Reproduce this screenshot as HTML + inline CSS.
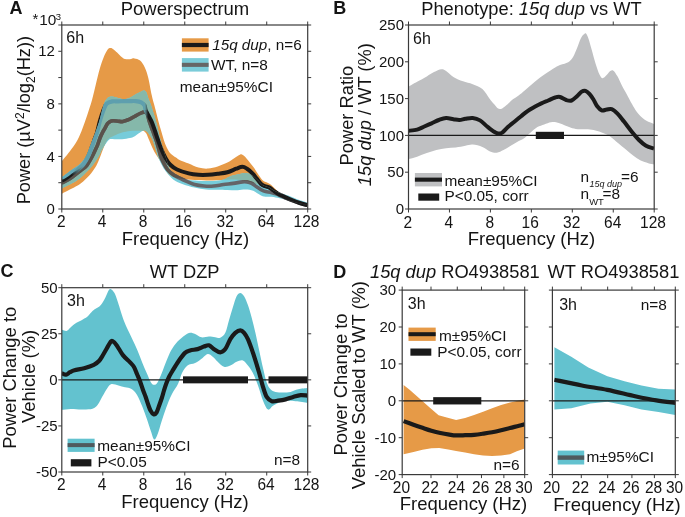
<!DOCTYPE html>
<html><head><meta charset="utf-8"><style>
html,body{margin:0;padding:0;background:#fff;width:685px;height:517px;overflow:hidden}
svg{display:block;will-change:transform;font-family:"Liberation Sans",sans-serif}
</style></head><body>
<svg width="685" height="517" viewBox="0 0 685 517">
<rect width="685" height="517" fill="#fff"/>
<clipPath id="clipA"><rect x="61.80" y="25.00" width="245.90" height="184.00"/></clipPath>
<clipPath id="cyanA"><path d="M61.80,176.80 C62.17,176.63 62.30,176.97 64.00,175.80 C65.70,174.63 69.33,171.77 72.00,169.80 C74.67,167.83 77.70,166.22 80.00,164.00 C82.30,161.78 84.05,159.68 85.80,156.50 C87.55,153.32 88.95,148.77 90.50,144.90 C92.05,141.03 93.65,137.18 95.10,133.30 C96.55,129.42 98.03,125.48 99.20,121.60 C100.37,117.72 101.20,113.23 102.10,110.00 C103.00,106.77 103.55,104.32 104.60,102.20 C105.65,100.08 107.10,98.23 108.40,97.30 C109.70,96.37 110.77,96.47 112.40,96.60 C114.03,96.73 116.27,97.65 118.20,98.10 C120.13,98.55 122.07,99.35 124.00,99.30 C125.93,99.25 127.87,98.63 129.80,97.80 C131.73,96.97 133.67,95.37 135.60,94.30 C137.53,93.23 140.05,92.05 141.40,91.40 C142.75,90.75 142.90,90.30 143.70,90.40 C144.50,90.50 145.38,90.57 146.20,92.00 C147.02,93.43 147.87,97.00 148.60,99.00 C149.33,101.00 149.93,102.17 150.60,104.00 C151.27,105.83 151.67,107.00 152.60,110.00 C153.53,113.00 154.87,117.00 156.20,122.00 C157.53,127.00 159.38,135.33 160.60,140.00 C161.82,144.67 162.60,147.00 163.50,150.00 C164.40,153.00 165.08,155.17 166.00,158.00 C166.92,160.83 167.92,164.25 169.00,167.00 C170.08,169.75 170.67,172.58 172.50,174.50 C174.33,176.42 176.25,177.50 180.00,178.50 C183.75,179.50 190.00,180.08 195.00,180.50 C200.00,180.92 205.50,181.08 210.00,181.00 C214.50,180.92 218.67,180.77 222.00,180.00 C225.33,179.23 227.12,177.38 230.00,176.40 C232.88,175.42 236.72,174.67 239.30,174.10 C241.88,173.53 243.43,172.87 245.50,173.00 C247.57,173.13 249.77,173.82 251.70,174.90 C253.63,175.98 255.30,177.83 257.10,179.50 C258.90,181.17 260.57,183.60 262.50,184.90 C264.43,186.20 266.63,186.27 268.70,187.30 C270.77,188.33 272.83,190.07 274.90,191.10 C276.97,192.13 278.78,192.72 281.10,193.50 C283.42,194.28 286.23,194.90 288.80,195.80 C291.37,196.70 293.35,197.75 296.50,198.90 C299.65,200.05 305.83,202.07 307.70,202.70 L307.70,204.90 C306.10,204.57 301.25,203.62 298.10,202.90 C294.95,202.18 291.90,201.37 288.80,200.60 C285.70,199.83 282.33,198.93 279.50,198.30 C276.67,197.67 274.38,197.10 271.80,196.80 C269.22,196.50 266.07,196.88 264.00,196.50 C261.93,196.12 261.20,195.45 259.40,194.50 C257.60,193.55 255.52,191.62 253.20,190.80 C250.88,189.98 248.08,189.70 245.50,189.60 C242.92,189.50 240.72,190.13 237.70,190.20 C234.68,190.27 230.73,190.07 227.40,190.00 C224.07,189.93 221.25,189.87 217.70,189.80 C214.15,189.73 209.97,189.97 206.10,189.60 C202.23,189.23 198.37,188.50 194.50,187.60 C190.63,186.70 186.45,185.55 182.90,184.20 C179.35,182.85 176.10,181.70 173.20,179.50 C170.30,177.30 167.40,173.42 165.50,171.00 C163.60,168.58 162.95,167.17 161.80,165.00 C160.65,162.83 159.63,160.67 158.60,158.00 C157.57,155.33 156.60,152.00 155.60,149.00 C154.60,146.00 153.53,142.25 152.60,140.00 C151.67,137.75 150.92,136.87 150.00,135.50 C149.08,134.13 148.17,132.65 147.10,131.80 C146.03,130.95 144.90,130.20 143.60,130.40 C142.30,130.60 140.85,131.98 139.30,133.00 C137.75,134.02 135.85,135.67 134.30,136.50 C132.75,137.33 132.03,137.55 130.00,138.00 C127.97,138.45 124.68,139.00 122.10,139.20 C119.52,139.40 116.63,139.17 114.50,139.20 C112.37,139.23 110.85,138.52 109.30,139.40 C107.75,140.28 106.47,142.73 105.20,144.50 C103.93,146.27 102.80,148.00 101.70,150.00 C100.60,152.00 100.18,153.83 98.60,156.50 C97.02,159.17 94.30,163.33 92.20,166.00 C90.10,168.67 88.03,170.47 86.00,172.50 C83.97,174.53 82.33,176.40 80.00,178.20 C77.67,180.00 74.67,181.78 72.00,183.30 C69.33,184.82 65.70,186.42 64.00,187.30 C62.30,188.18 62.17,188.38 61.80,188.60 Z"/></clipPath>
<clipPath id="orA"><path d="M61.80,161.30 C63.12,159.68 67.08,155.15 69.70,151.60 C72.32,148.05 75.40,143.77 77.50,140.00 C79.60,136.23 80.70,133.10 82.30,129.00 C83.90,124.90 85.48,120.23 87.10,115.40 C88.72,110.57 90.55,105.15 92.00,100.00 C93.45,94.85 94.52,89.67 95.80,84.50 C97.08,79.33 98.40,73.52 99.70,69.00 C101.00,64.48 102.30,60.62 103.60,57.40 C104.90,54.18 106.37,51.25 107.50,49.70 C108.63,48.15 109.43,48.17 110.40,48.10 C111.37,48.03 112.18,48.55 113.30,49.30 C114.42,50.05 115.82,51.42 117.10,52.60 C118.38,53.78 119.68,55.33 121.00,56.40 C122.32,57.47 123.50,58.53 125.00,59.00 C126.50,59.47 128.45,59.30 130.00,59.20 C131.55,59.10 132.62,58.18 134.30,58.40 C135.98,58.62 138.35,59.00 140.10,60.50 C141.85,62.00 143.43,64.50 144.80,67.40 C146.17,70.30 147.15,73.30 148.30,77.90 C149.45,82.50 150.75,90.65 151.70,95.00 C152.65,99.35 153.35,101.50 154.00,104.00 C154.65,106.50 154.83,107.00 155.60,110.00 C156.37,113.00 157.67,118.50 158.60,122.00 C159.53,125.50 160.33,128.00 161.20,131.00 C162.07,134.00 162.92,137.33 163.80,140.00 C164.68,142.67 165.47,144.85 166.50,147.00 C167.53,149.15 168.42,151.13 170.00,152.90 C171.58,154.67 174.33,156.38 176.00,157.60 C177.67,158.82 177.88,159.22 180.00,160.20 C182.12,161.18 185.63,162.27 188.70,163.50 C191.77,164.73 195.18,166.75 198.40,167.60 C201.62,168.45 204.78,168.78 208.00,168.60 C211.22,168.42 214.47,167.50 217.70,166.50 C220.93,165.50 224.58,164.03 227.40,162.60 C230.22,161.17 232.62,159.15 234.60,157.90 C236.58,156.65 238.18,155.70 239.30,155.10 C240.42,154.50 240.43,154.10 241.30,154.30 C242.17,154.50 243.38,155.30 244.50,156.30 C245.62,157.30 246.52,158.50 248.00,160.30 C249.48,162.10 251.60,164.62 253.40,167.10 C255.20,169.58 257.22,172.95 258.80,175.20 C260.38,177.45 261.53,179.37 262.90,180.60 C264.27,181.83 265.65,181.92 267.00,182.60 C268.35,183.28 269.65,183.68 271.00,184.70 C272.35,185.72 273.75,187.38 275.10,188.70 C276.45,190.02 277.58,191.42 279.10,192.60 C280.62,193.78 282.07,194.67 284.20,195.80 C286.33,196.93 289.32,198.32 291.90,199.40 C294.48,200.48 297.07,201.48 299.70,202.30 C302.33,203.12 306.37,203.97 307.70,204.30 L307.70,205.30 C304.75,204.42 294.95,201.80 290.00,200.00 C285.05,198.20 281.55,196.23 278.00,194.50 C274.45,192.77 272.03,191.27 268.70,189.60 C265.37,187.93 261.95,186.02 258.00,184.50 C254.05,182.98 249.33,181.33 245.00,180.50 C240.67,179.67 235.83,179.58 232.00,179.50 C228.17,179.42 225.67,179.83 222.00,180.00 C218.33,180.17 214.50,180.50 210.00,180.50 C205.50,180.50 200.00,180.33 195.00,180.00 C190.00,179.67 184.17,179.25 180.00,178.50 C175.83,177.75 172.67,177.42 170.00,175.50 C167.33,173.58 165.67,169.50 164.00,167.00 C162.33,164.50 161.33,162.58 160.00,160.50 C158.67,158.42 157.25,156.58 156.00,154.50 C154.75,152.42 153.65,150.42 152.50,148.00 C151.35,145.58 150.13,142.42 149.10,140.00 C148.07,137.58 147.15,134.97 146.30,133.50 C145.45,132.03 144.52,131.62 144.00,131.20 C143.48,130.78 144.03,131.07 143.20,131.00 C142.37,130.93 141.20,130.80 139.00,130.80 C136.80,130.80 132.82,130.70 130.00,131.00 C127.18,131.30 124.38,131.97 122.10,132.60 C119.82,133.23 118.43,133.85 116.30,134.80 C114.17,135.75 110.93,137.18 109.30,138.30 C107.67,139.42 107.47,139.88 106.50,141.50 C105.53,143.12 104.53,145.50 103.50,148.00 C102.47,150.50 101.50,153.53 100.30,156.50 C99.10,159.47 97.85,162.97 96.30,165.80 C94.75,168.63 92.72,171.33 91.00,173.50 C89.28,175.67 87.83,177.05 86.00,178.80 C84.17,180.55 82.33,182.37 80.00,184.00 C77.67,185.63 74.67,187.17 72.00,188.60 C69.33,190.03 65.70,191.70 64.00,192.60 C62.30,193.50 62.17,193.77 61.80,194.00 Z"/></clipPath>
<linearGradient id="gMidA" gradientUnits="userSpaceOnUse" x1="60" y1="0" x2="310" y2="0"><stop offset="0.0480" stop-color="#fff" stop-opacity="0"/><stop offset="0.0960" stop-color="#fff" stop-opacity="1"/><stop offset="0.3360" stop-color="#fff" stop-opacity="1"/><stop offset="0.3520" stop-color="#fff" stop-opacity="0"/></linearGradient>
<linearGradient id="gNotMidA" gradientUnits="userSpaceOnUse" x1="60" y1="0" x2="310" y2="0"><stop offset="0.0480" stop-color="#fff" stop-opacity="1"/><stop offset="0.0960" stop-color="#fff" stop-opacity="0"/><stop offset="0.3360" stop-color="#fff" stop-opacity="0"/><stop offset="0.3520" stop-color="#fff" stop-opacity="1"/></linearGradient>
<mask id="mMidA" maskUnits="userSpaceOnUse" x="0" y="0" width="685" height="517"><rect x="60" y="25" width="250" height="184" fill="url(#gMidA)"/></mask>
<mask id="mNotMidA" maskUnits="userSpaceOnUse" x="0" y="0" width="685" height="517"><rect x="60" y="25" width="250" height="184" fill="url(#gNotMidA)"/></mask>
<mask id="mOutCyanA" maskUnits="userSpaceOnUse" x="0" y="0" width="685" height="517"><rect x="0" y="0" width="685" height="517" fill="#fff"/><path d="M61.80,176.80 C62.17,176.63 62.30,176.97 64.00,175.80 C65.70,174.63 69.33,171.77 72.00,169.80 C74.67,167.83 77.70,166.22 80.00,164.00 C82.30,161.78 84.05,159.68 85.80,156.50 C87.55,153.32 88.95,148.77 90.50,144.90 C92.05,141.03 93.65,137.18 95.10,133.30 C96.55,129.42 98.03,125.48 99.20,121.60 C100.37,117.72 101.20,113.23 102.10,110.00 C103.00,106.77 103.55,104.32 104.60,102.20 C105.65,100.08 107.10,98.23 108.40,97.30 C109.70,96.37 110.77,96.47 112.40,96.60 C114.03,96.73 116.27,97.65 118.20,98.10 C120.13,98.55 122.07,99.35 124.00,99.30 C125.93,99.25 127.87,98.63 129.80,97.80 C131.73,96.97 133.67,95.37 135.60,94.30 C137.53,93.23 140.05,92.05 141.40,91.40 C142.75,90.75 142.90,90.30 143.70,90.40 C144.50,90.50 145.38,90.57 146.20,92.00 C147.02,93.43 147.87,97.00 148.60,99.00 C149.33,101.00 149.93,102.17 150.60,104.00 C151.27,105.83 151.67,107.00 152.60,110.00 C153.53,113.00 154.87,117.00 156.20,122.00 C157.53,127.00 159.38,135.33 160.60,140.00 C161.82,144.67 162.60,147.00 163.50,150.00 C164.40,153.00 165.08,155.17 166.00,158.00 C166.92,160.83 167.92,164.25 169.00,167.00 C170.08,169.75 170.67,172.58 172.50,174.50 C174.33,176.42 176.25,177.50 180.00,178.50 C183.75,179.50 190.00,180.08 195.00,180.50 C200.00,180.92 205.50,181.08 210.00,181.00 C214.50,180.92 218.67,180.77 222.00,180.00 C225.33,179.23 227.12,177.38 230.00,176.40 C232.88,175.42 236.72,174.67 239.30,174.10 C241.88,173.53 243.43,172.87 245.50,173.00 C247.57,173.13 249.77,173.82 251.70,174.90 C253.63,175.98 255.30,177.83 257.10,179.50 C258.90,181.17 260.57,183.60 262.50,184.90 C264.43,186.20 266.63,186.27 268.70,187.30 C270.77,188.33 272.83,190.07 274.90,191.10 C276.97,192.13 278.78,192.72 281.10,193.50 C283.42,194.28 286.23,194.90 288.80,195.80 C291.37,196.70 293.35,197.75 296.50,198.90 C299.65,200.05 305.83,202.07 307.70,202.70 L307.70,204.90 C306.10,204.57 301.25,203.62 298.10,202.90 C294.95,202.18 291.90,201.37 288.80,200.60 C285.70,199.83 282.33,198.93 279.50,198.30 C276.67,197.67 274.38,197.10 271.80,196.80 C269.22,196.50 266.07,196.88 264.00,196.50 C261.93,196.12 261.20,195.45 259.40,194.50 C257.60,193.55 255.52,191.62 253.20,190.80 C250.88,189.98 248.08,189.70 245.50,189.60 C242.92,189.50 240.72,190.13 237.70,190.20 C234.68,190.27 230.73,190.07 227.40,190.00 C224.07,189.93 221.25,189.87 217.70,189.80 C214.15,189.73 209.97,189.97 206.10,189.60 C202.23,189.23 198.37,188.50 194.50,187.60 C190.63,186.70 186.45,185.55 182.90,184.20 C179.35,182.85 176.10,181.70 173.20,179.50 C170.30,177.30 167.40,173.42 165.50,171.00 C163.60,168.58 162.95,167.17 161.80,165.00 C160.65,162.83 159.63,160.67 158.60,158.00 C157.57,155.33 156.60,152.00 155.60,149.00 C154.60,146.00 153.53,142.25 152.60,140.00 C151.67,137.75 150.92,136.87 150.00,135.50 C149.08,134.13 148.17,132.65 147.10,131.80 C146.03,130.95 144.90,130.20 143.60,130.40 C142.30,130.60 140.85,131.98 139.30,133.00 C137.75,134.02 135.85,135.67 134.30,136.50 C132.75,137.33 132.03,137.55 130.00,138.00 C127.97,138.45 124.68,139.00 122.10,139.20 C119.52,139.40 116.63,139.17 114.50,139.20 C112.37,139.23 110.85,138.52 109.30,139.40 C107.75,140.28 106.47,142.73 105.20,144.50 C103.93,146.27 102.80,148.00 101.70,150.00 C100.60,152.00 100.18,153.83 98.60,156.50 C97.02,159.17 94.30,163.33 92.20,166.00 C90.10,168.67 88.03,170.47 86.00,172.50 C83.97,174.53 82.33,176.40 80.00,178.20 C77.67,180.00 74.67,181.78 72.00,183.30 C69.33,184.82 65.70,186.42 64.00,187.30 C62.30,188.18 62.17,188.38 61.80,188.60 Z" fill="#000"/></mask>
<linearGradient id="gLeftA" gradientUnits="userSpaceOnUse" x1="74" y1="0" x2="86" y2="0"><stop offset="0" stop-color="#fff" stop-opacity="1"/><stop offset="1" stop-color="#fff" stop-opacity="0"/></linearGradient>
<mask id="mLeftA" maskUnits="userSpaceOnUse" x="0" y="0" width="685" height="517"><rect x="60" y="25" width="40" height="184" fill="url(#gLeftA)"/></mask>
<g clip-path="url(#clipA)">
<path d="M61.80,161.30 C63.12,159.68 67.08,155.15 69.70,151.60 C72.32,148.05 75.40,143.77 77.50,140.00 C79.60,136.23 80.70,133.10 82.30,129.00 C83.90,124.90 85.48,120.23 87.10,115.40 C88.72,110.57 90.55,105.15 92.00,100.00 C93.45,94.85 94.52,89.67 95.80,84.50 C97.08,79.33 98.40,73.52 99.70,69.00 C101.00,64.48 102.30,60.62 103.60,57.40 C104.90,54.18 106.37,51.25 107.50,49.70 C108.63,48.15 109.43,48.17 110.40,48.10 C111.37,48.03 112.18,48.55 113.30,49.30 C114.42,50.05 115.82,51.42 117.10,52.60 C118.38,53.78 119.68,55.33 121.00,56.40 C122.32,57.47 123.50,58.53 125.00,59.00 C126.50,59.47 128.45,59.30 130.00,59.20 C131.55,59.10 132.62,58.18 134.30,58.40 C135.98,58.62 138.35,59.00 140.10,60.50 C141.85,62.00 143.43,64.50 144.80,67.40 C146.17,70.30 147.15,73.30 148.30,77.90 C149.45,82.50 150.75,90.65 151.70,95.00 C152.65,99.35 153.35,101.50 154.00,104.00 C154.65,106.50 154.83,107.00 155.60,110.00 C156.37,113.00 157.67,118.50 158.60,122.00 C159.53,125.50 160.33,128.00 161.20,131.00 C162.07,134.00 162.92,137.33 163.80,140.00 C164.68,142.67 165.47,144.85 166.50,147.00 C167.53,149.15 168.42,151.13 170.00,152.90 C171.58,154.67 174.33,156.38 176.00,157.60 C177.67,158.82 177.88,159.22 180.00,160.20 C182.12,161.18 185.63,162.27 188.70,163.50 C191.77,164.73 195.18,166.75 198.40,167.60 C201.62,168.45 204.78,168.78 208.00,168.60 C211.22,168.42 214.47,167.50 217.70,166.50 C220.93,165.50 224.58,164.03 227.40,162.60 C230.22,161.17 232.62,159.15 234.60,157.90 C236.58,156.65 238.18,155.70 239.30,155.10 C240.42,154.50 240.43,154.10 241.30,154.30 C242.17,154.50 243.38,155.30 244.50,156.30 C245.62,157.30 246.52,158.50 248.00,160.30 C249.48,162.10 251.60,164.62 253.40,167.10 C255.20,169.58 257.22,172.95 258.80,175.20 C260.38,177.45 261.53,179.37 262.90,180.60 C264.27,181.83 265.65,181.92 267.00,182.60 C268.35,183.28 269.65,183.68 271.00,184.70 C272.35,185.72 273.75,187.38 275.10,188.70 C276.45,190.02 277.58,191.42 279.10,192.60 C280.62,193.78 282.07,194.67 284.20,195.80 C286.33,196.93 289.32,198.32 291.90,199.40 C294.48,200.48 297.07,201.48 299.70,202.30 C302.33,203.12 306.37,203.97 307.70,204.30 L307.70,205.30 C304.75,204.42 294.95,201.80 290.00,200.00 C285.05,198.20 281.55,196.23 278.00,194.50 C274.45,192.77 272.03,191.27 268.70,189.60 C265.37,187.93 261.95,186.02 258.00,184.50 C254.05,182.98 249.33,181.33 245.00,180.50 C240.67,179.67 235.83,179.58 232.00,179.50 C228.17,179.42 225.67,179.83 222.00,180.00 C218.33,180.17 214.50,180.50 210.00,180.50 C205.50,180.50 200.00,180.33 195.00,180.00 C190.00,179.67 184.17,179.25 180.00,178.50 C175.83,177.75 172.67,177.42 170.00,175.50 C167.33,173.58 165.67,169.50 164.00,167.00 C162.33,164.50 161.33,162.58 160.00,160.50 C158.67,158.42 157.25,156.58 156.00,154.50 C154.75,152.42 153.65,150.42 152.50,148.00 C151.35,145.58 150.13,142.42 149.10,140.00 C148.07,137.58 147.15,134.97 146.30,133.50 C145.45,132.03 144.52,131.62 144.00,131.20 C143.48,130.78 144.03,131.07 143.20,131.00 C142.37,130.93 141.20,130.80 139.00,130.80 C136.80,130.80 132.82,130.70 130.00,131.00 C127.18,131.30 124.38,131.97 122.10,132.60 C119.82,133.23 118.43,133.85 116.30,134.80 C114.17,135.75 110.93,137.18 109.30,138.30 C107.67,139.42 107.47,139.88 106.50,141.50 C105.53,143.12 104.53,145.50 103.50,148.00 C102.47,150.50 101.50,153.53 100.30,156.50 C99.10,159.47 97.85,162.97 96.30,165.80 C94.75,168.63 92.72,171.33 91.00,173.50 C89.28,175.67 87.83,177.05 86.00,178.80 C84.17,180.55 82.33,182.37 80.00,184.00 C77.67,185.63 74.67,187.17 72.00,188.60 C69.33,190.03 65.70,191.70 64.00,192.60 C62.30,193.50 62.17,193.77 61.80,194.00 Z" fill="#E69A47"/>
<path d="M61.80,176.80 C62.17,176.63 62.30,176.97 64.00,175.80 C65.70,174.63 69.33,171.77 72.00,169.80 C74.67,167.83 77.70,166.22 80.00,164.00 C82.30,161.78 84.05,159.68 85.80,156.50 C87.55,153.32 88.95,148.77 90.50,144.90 C92.05,141.03 93.65,137.18 95.10,133.30 C96.55,129.42 98.03,125.48 99.20,121.60 C100.37,117.72 101.20,113.23 102.10,110.00 C103.00,106.77 103.55,104.32 104.60,102.20 C105.65,100.08 107.10,98.23 108.40,97.30 C109.70,96.37 110.77,96.47 112.40,96.60 C114.03,96.73 116.27,97.65 118.20,98.10 C120.13,98.55 122.07,99.35 124.00,99.30 C125.93,99.25 127.87,98.63 129.80,97.80 C131.73,96.97 133.67,95.37 135.60,94.30 C137.53,93.23 140.05,92.05 141.40,91.40 C142.75,90.75 142.90,90.30 143.70,90.40 C144.50,90.50 145.38,90.57 146.20,92.00 C147.02,93.43 147.87,97.00 148.60,99.00 C149.33,101.00 149.93,102.17 150.60,104.00 C151.27,105.83 151.67,107.00 152.60,110.00 C153.53,113.00 154.87,117.00 156.20,122.00 C157.53,127.00 159.38,135.33 160.60,140.00 C161.82,144.67 162.60,147.00 163.50,150.00 C164.40,153.00 165.08,155.17 166.00,158.00 C166.92,160.83 167.92,164.25 169.00,167.00 C170.08,169.75 170.67,172.58 172.50,174.50 C174.33,176.42 176.25,177.50 180.00,178.50 C183.75,179.50 190.00,180.08 195.00,180.50 C200.00,180.92 205.50,181.08 210.00,181.00 C214.50,180.92 218.67,180.77 222.00,180.00 C225.33,179.23 227.12,177.38 230.00,176.40 C232.88,175.42 236.72,174.67 239.30,174.10 C241.88,173.53 243.43,172.87 245.50,173.00 C247.57,173.13 249.77,173.82 251.70,174.90 C253.63,175.98 255.30,177.83 257.10,179.50 C258.90,181.17 260.57,183.60 262.50,184.90 C264.43,186.20 266.63,186.27 268.70,187.30 C270.77,188.33 272.83,190.07 274.90,191.10 C276.97,192.13 278.78,192.72 281.10,193.50 C283.42,194.28 286.23,194.90 288.80,195.80 C291.37,196.70 293.35,197.75 296.50,198.90 C299.65,200.05 305.83,202.07 307.70,202.70 L307.70,204.90 C306.10,204.57 301.25,203.62 298.10,202.90 C294.95,202.18 291.90,201.37 288.80,200.60 C285.70,199.83 282.33,198.93 279.50,198.30 C276.67,197.67 274.38,197.10 271.80,196.80 C269.22,196.50 266.07,196.88 264.00,196.50 C261.93,196.12 261.20,195.45 259.40,194.50 C257.60,193.55 255.52,191.62 253.20,190.80 C250.88,189.98 248.08,189.70 245.50,189.60 C242.92,189.50 240.72,190.13 237.70,190.20 C234.68,190.27 230.73,190.07 227.40,190.00 C224.07,189.93 221.25,189.87 217.70,189.80 C214.15,189.73 209.97,189.97 206.10,189.60 C202.23,189.23 198.37,188.50 194.50,187.60 C190.63,186.70 186.45,185.55 182.90,184.20 C179.35,182.85 176.10,181.70 173.20,179.50 C170.30,177.30 167.40,173.42 165.50,171.00 C163.60,168.58 162.95,167.17 161.80,165.00 C160.65,162.83 159.63,160.67 158.60,158.00 C157.57,155.33 156.60,152.00 155.60,149.00 C154.60,146.00 153.53,142.25 152.60,140.00 C151.67,137.75 150.92,136.87 150.00,135.50 C149.08,134.13 148.17,132.65 147.10,131.80 C146.03,130.95 144.90,130.20 143.60,130.40 C142.30,130.60 140.85,131.98 139.30,133.00 C137.75,134.02 135.85,135.67 134.30,136.50 C132.75,137.33 132.03,137.55 130.00,138.00 C127.97,138.45 124.68,139.00 122.10,139.20 C119.52,139.40 116.63,139.17 114.50,139.20 C112.37,139.23 110.85,138.52 109.30,139.40 C107.75,140.28 106.47,142.73 105.20,144.50 C103.93,146.27 102.80,148.00 101.70,150.00 C100.60,152.00 100.18,153.83 98.60,156.50 C97.02,159.17 94.30,163.33 92.20,166.00 C90.10,168.67 88.03,170.47 86.00,172.50 C83.97,174.53 82.33,176.40 80.00,178.20 C77.67,180.00 74.67,181.78 72.00,183.30 C69.33,184.82 65.70,186.42 64.00,187.30 C62.30,188.18 62.17,188.38 61.80,188.60 Z" fill="#76CCDA"/>
<g clip-path="url(#orA)"><path d="M61.80,176.80 C62.17,176.63 62.30,176.97 64.00,175.80 C65.70,174.63 69.33,171.77 72.00,169.80 C74.67,167.83 77.70,166.22 80.00,164.00 C82.30,161.78 84.05,159.68 85.80,156.50 C87.55,153.32 88.95,148.77 90.50,144.90 C92.05,141.03 93.65,137.18 95.10,133.30 C96.55,129.42 98.03,125.48 99.20,121.60 C100.37,117.72 101.20,113.23 102.10,110.00 C103.00,106.77 103.55,104.32 104.60,102.20 C105.65,100.08 107.10,98.23 108.40,97.30 C109.70,96.37 110.77,96.47 112.40,96.60 C114.03,96.73 116.27,97.65 118.20,98.10 C120.13,98.55 122.07,99.35 124.00,99.30 C125.93,99.25 127.87,98.63 129.80,97.80 C131.73,96.97 133.67,95.37 135.60,94.30 C137.53,93.23 140.05,92.05 141.40,91.40 C142.75,90.75 142.90,90.30 143.70,90.40 C144.50,90.50 145.38,90.57 146.20,92.00 C147.02,93.43 147.87,97.00 148.60,99.00 C149.33,101.00 149.93,102.17 150.60,104.00 C151.27,105.83 151.67,107.00 152.60,110.00 C153.53,113.00 154.87,117.00 156.20,122.00 C157.53,127.00 159.38,135.33 160.60,140.00 C161.82,144.67 162.60,147.00 163.50,150.00 C164.40,153.00 165.08,155.17 166.00,158.00 C166.92,160.83 167.92,164.25 169.00,167.00 C170.08,169.75 170.67,172.58 172.50,174.50 C174.33,176.42 176.25,177.50 180.00,178.50 C183.75,179.50 190.00,180.08 195.00,180.50 C200.00,180.92 205.50,181.08 210.00,181.00 C214.50,180.92 218.67,180.77 222.00,180.00 C225.33,179.23 227.12,177.38 230.00,176.40 C232.88,175.42 236.72,174.67 239.30,174.10 C241.88,173.53 243.43,172.87 245.50,173.00 C247.57,173.13 249.77,173.82 251.70,174.90 C253.63,175.98 255.30,177.83 257.10,179.50 C258.90,181.17 260.57,183.60 262.50,184.90 C264.43,186.20 266.63,186.27 268.70,187.30 C270.77,188.33 272.83,190.07 274.90,191.10 C276.97,192.13 278.78,192.72 281.10,193.50 C283.42,194.28 286.23,194.90 288.80,195.80 C291.37,196.70 293.35,197.75 296.50,198.90 C299.65,200.05 305.83,202.07 307.70,202.70 L307.70,204.90 C306.10,204.57 301.25,203.62 298.10,202.90 C294.95,202.18 291.90,201.37 288.80,200.60 C285.70,199.83 282.33,198.93 279.50,198.30 C276.67,197.67 274.38,197.10 271.80,196.80 C269.22,196.50 266.07,196.88 264.00,196.50 C261.93,196.12 261.20,195.45 259.40,194.50 C257.60,193.55 255.52,191.62 253.20,190.80 C250.88,189.98 248.08,189.70 245.50,189.60 C242.92,189.50 240.72,190.13 237.70,190.20 C234.68,190.27 230.73,190.07 227.40,190.00 C224.07,189.93 221.25,189.87 217.70,189.80 C214.15,189.73 209.97,189.97 206.10,189.60 C202.23,189.23 198.37,188.50 194.50,187.60 C190.63,186.70 186.45,185.55 182.90,184.20 C179.35,182.85 176.10,181.70 173.20,179.50 C170.30,177.30 167.40,173.42 165.50,171.00 C163.60,168.58 162.95,167.17 161.80,165.00 C160.65,162.83 159.63,160.67 158.60,158.00 C157.57,155.33 156.60,152.00 155.60,149.00 C154.60,146.00 153.53,142.25 152.60,140.00 C151.67,137.75 150.92,136.87 150.00,135.50 C149.08,134.13 148.17,132.65 147.10,131.80 C146.03,130.95 144.90,130.20 143.60,130.40 C142.30,130.60 140.85,131.98 139.30,133.00 C137.75,134.02 135.85,135.67 134.30,136.50 C132.75,137.33 132.03,137.55 130.00,138.00 C127.97,138.45 124.68,139.00 122.10,139.20 C119.52,139.40 116.63,139.17 114.50,139.20 C112.37,139.23 110.85,138.52 109.30,139.40 C107.75,140.28 106.47,142.73 105.20,144.50 C103.93,146.27 102.80,148.00 101.70,150.00 C100.60,152.00 100.18,153.83 98.60,156.50 C97.02,159.17 94.30,163.33 92.20,166.00 C90.10,168.67 88.03,170.47 86.00,172.50 C83.97,174.53 82.33,176.40 80.00,178.20 C77.67,180.00 74.67,181.78 72.00,183.30 C69.33,184.82 65.70,186.42 64.00,187.30 C62.30,188.18 62.17,188.38 61.80,188.60 Z" fill="#85B8AA"/></g>
<path d="M61.80,182.80 C62.17,182.67 62.30,182.93 64.00,182.00 C65.70,181.07 69.33,179.03 72.00,177.20 C74.67,175.37 77.55,172.95 80.00,171.00 C82.45,169.05 84.67,167.92 86.70,165.50 C88.73,163.08 90.73,159.17 92.20,156.50 C93.67,153.83 94.60,151.43 95.50,149.50 C96.40,147.57 96.82,146.90 97.60,144.90 C98.38,142.90 99.33,139.65 100.20,137.50 C101.07,135.35 102.07,133.45 102.80,132.00 C103.53,130.55 103.82,130.18 104.60,128.80 C105.38,127.42 106.60,124.90 107.50,123.70 C108.40,122.50 109.08,122.08 110.00,121.60 C110.92,121.12 111.67,120.87 113.00,120.80 C114.33,120.73 116.50,121.07 118.00,121.20 C119.50,121.33 120.83,121.67 122.00,121.60 C123.17,121.53 123.70,121.20 125.00,120.80 C126.30,120.40 128.03,120.03 129.80,119.20 C131.57,118.37 133.67,116.85 135.60,115.80 C137.53,114.75 139.85,113.55 141.40,112.90 C142.95,112.25 143.97,111.88 144.90,111.90 C145.83,111.92 146.23,111.32 147.00,113.00 C147.77,114.68 148.53,119.00 149.50,122.00 C150.47,125.00 151.70,128.00 152.80,131.00 C153.90,134.00 155.10,137.00 156.10,140.00 C157.10,143.00 157.92,146.00 158.80,149.00 C159.68,152.00 159.97,154.58 161.40,158.00 C162.83,161.42 165.12,166.53 167.40,169.50 C169.68,172.47 172.20,173.95 175.10,175.80 C178.00,177.65 181.57,179.15 184.80,180.60 C188.03,182.05 191.27,183.60 194.50,184.50 C197.73,185.40 200.98,185.75 204.20,186.00 C207.42,186.25 210.58,186.25 213.80,186.00 C217.02,185.75 220.27,184.93 223.50,184.50 C226.73,184.07 230.05,183.83 233.20,183.40 C236.35,182.97 240.10,182.13 242.40,181.90 C244.70,181.67 245.45,181.75 247.00,182.00 C248.55,182.25 250.15,182.65 251.70,183.40 C253.25,184.15 254.75,185.47 256.30,186.50 C257.85,187.53 259.45,188.75 261.00,189.60 C262.55,190.45 264.07,191.17 265.60,191.60 C267.13,192.03 268.65,191.87 270.20,192.20 C271.75,192.53 273.35,193.08 274.90,193.60 C276.45,194.12 277.82,194.60 279.50,195.30 C281.18,196.00 282.92,196.93 285.00,197.80 C287.08,198.67 289.50,199.60 292.00,200.50 C294.50,201.40 297.45,202.42 300.00,203.20 C302.55,203.98 306.08,204.87 307.30,205.20" stroke="#646468" stroke-width="3.6" fill="none" stroke-linejoin="round"/>
<g clip-path="url(#orA)"><path d="M61.80,182.80 C62.17,182.67 62.30,182.93 64.00,182.00 C65.70,181.07 69.33,179.03 72.00,177.20 C74.67,175.37 77.55,172.95 80.00,171.00 C82.45,169.05 84.67,167.92 86.70,165.50 C88.73,163.08 90.73,159.17 92.20,156.50 C93.67,153.83 94.60,151.43 95.50,149.50 C96.40,147.57 96.82,146.90 97.60,144.90 C98.38,142.90 99.33,139.65 100.20,137.50 C101.07,135.35 102.07,133.45 102.80,132.00 C103.53,130.55 103.82,130.18 104.60,128.80 C105.38,127.42 106.60,124.90 107.50,123.70 C108.40,122.50 109.08,122.08 110.00,121.60 C110.92,121.12 111.67,120.87 113.00,120.80 C114.33,120.73 116.50,121.07 118.00,121.20 C119.50,121.33 120.83,121.67 122.00,121.60 C123.17,121.53 123.70,121.20 125.00,120.80 C126.30,120.40 128.03,120.03 129.80,119.20 C131.57,118.37 133.67,116.85 135.60,115.80 C137.53,114.75 139.85,113.55 141.40,112.90 C142.95,112.25 143.97,111.88 144.90,111.90 C145.83,111.92 146.23,111.32 147.00,113.00 C147.77,114.68 148.53,119.00 149.50,122.00 C150.47,125.00 151.70,128.00 152.80,131.00 C153.90,134.00 155.10,137.00 156.10,140.00 C157.10,143.00 157.92,146.00 158.80,149.00 C159.68,152.00 159.97,154.58 161.40,158.00 C162.83,161.42 165.12,166.53 167.40,169.50 C169.68,172.47 172.20,173.95 175.10,175.80 C178.00,177.65 181.57,179.15 184.80,180.60 C188.03,182.05 191.27,183.60 194.50,184.50 C197.73,185.40 200.98,185.75 204.20,186.00 C207.42,186.25 210.58,186.25 213.80,186.00 C217.02,185.75 220.27,184.93 223.50,184.50 C226.73,184.07 230.05,183.83 233.20,183.40 C236.35,182.97 240.10,182.13 242.40,181.90 C244.70,181.67 245.45,181.75 247.00,182.00 C248.55,182.25 250.15,182.65 251.70,183.40 C253.25,184.15 254.75,185.47 256.30,186.50 C257.85,187.53 259.45,188.75 261.00,189.60 C262.55,190.45 264.07,191.17 265.60,191.60 C267.13,192.03 268.65,191.87 270.20,192.20 C271.75,192.53 273.35,193.08 274.90,193.60 C276.45,194.12 277.82,194.60 279.50,195.30 C281.18,196.00 282.92,196.93 285.00,197.80 C287.08,198.67 289.50,199.60 292.00,200.50 C294.50,201.40 297.45,202.42 300.00,203.20 C302.55,203.98 306.08,204.87 307.30,205.20" stroke="#5A524B" stroke-width="3.6" fill="none" stroke-linejoin="round"/></g>
<g mask="url(#mOutCyanA)"><path d="M61.80,180.50 C62.17,180.35 62.30,180.70 64.00,179.60 C65.70,178.50 69.75,175.50 72.00,173.90 C74.25,172.30 75.77,171.38 77.50,170.00 C79.23,168.62 80.98,167.18 82.40,165.60 C83.82,164.02 84.90,162.35 86.00,160.50 C87.10,158.65 88.00,156.83 89.00,154.50 C90.00,152.17 91.08,149.00 92.00,146.50 C92.92,144.00 93.67,141.83 94.50,139.50 C95.33,137.17 96.08,135.67 97.00,132.50 C97.92,129.33 98.92,124.25 100.00,120.50 C101.08,116.75 102.40,112.78 103.50,110.00 C104.60,107.22 105.12,105.23 106.60,103.80 C108.08,102.37 110.50,101.80 112.40,101.40 C114.30,101.00 116.07,101.45 118.00,101.40 C119.93,101.35 122.03,101.15 124.00,101.10 C125.97,101.05 127.87,101.10 129.80,101.10 C131.73,101.10 133.70,100.88 135.60,101.10 C137.50,101.32 139.70,101.67 141.20,102.40 C142.70,103.13 143.87,104.23 144.60,105.50 C145.33,106.77 144.92,108.25 145.60,110.00 C146.28,111.75 147.67,114.00 148.70,116.00 C149.73,118.00 150.75,119.50 151.80,122.00 C152.85,124.50 153.97,128.00 155.00,131.00 C156.03,134.00 156.92,136.92 158.00,140.00 C159.08,143.08 160.25,146.50 161.50,149.50 C162.75,152.50 164.08,155.50 165.50,158.00 C166.92,160.50 168.08,162.58 170.00,164.50 C171.92,166.42 173.88,168.02 177.00,169.50 C180.12,170.98 185.13,172.52 188.70,173.40 C192.27,174.28 195.18,174.57 198.40,174.80 C201.62,175.03 204.78,174.97 208.00,174.80 C211.22,174.63 214.47,174.22 217.70,173.80 C220.93,173.38 224.32,173.15 227.40,172.30 C230.48,171.45 233.70,169.62 236.20,168.70 C238.70,167.78 240.60,166.80 242.40,166.80 C244.20,166.80 245.45,167.73 247.00,168.70 C248.55,169.67 250.15,171.05 251.70,172.60 C253.25,174.15 254.75,176.10 256.30,178.00 C257.85,179.90 259.58,182.63 261.00,184.00 C262.42,185.37 263.38,185.60 264.80,186.20 C266.22,186.80 268.08,186.88 269.50,187.60 C270.92,188.32 271.88,189.47 273.30,190.50 C274.72,191.53 276.18,192.78 278.00,193.80 C279.82,194.82 281.88,195.57 284.20,196.60 C286.52,197.63 289.32,198.93 291.90,200.00 C294.48,201.07 297.13,202.13 299.70,203.00 C302.27,203.87 306.03,204.83 307.30,205.20" stroke="#1A1A1A" stroke-width="4" fill="none" stroke-linejoin="round"/></g>
<g clip-path="url(#cyanA)"><g mask="url(#mNotMidA)"><path d="M61.80,180.50 C62.17,180.35 62.30,180.70 64.00,179.60 C65.70,178.50 69.75,175.50 72.00,173.90 C74.25,172.30 75.77,171.38 77.50,170.00 C79.23,168.62 80.98,167.18 82.40,165.60 C83.82,164.02 84.90,162.35 86.00,160.50 C87.10,158.65 88.00,156.83 89.00,154.50 C90.00,152.17 91.08,149.00 92.00,146.50 C92.92,144.00 93.67,141.83 94.50,139.50 C95.33,137.17 96.08,135.67 97.00,132.50 C97.92,129.33 98.92,124.25 100.00,120.50 C101.08,116.75 102.40,112.78 103.50,110.00 C104.60,107.22 105.12,105.23 106.60,103.80 C108.08,102.37 110.50,101.80 112.40,101.40 C114.30,101.00 116.07,101.45 118.00,101.40 C119.93,101.35 122.03,101.15 124.00,101.10 C125.97,101.05 127.87,101.10 129.80,101.10 C131.73,101.10 133.70,100.88 135.60,101.10 C137.50,101.32 139.70,101.67 141.20,102.40 C142.70,103.13 143.87,104.23 144.60,105.50 C145.33,106.77 144.92,108.25 145.60,110.00 C146.28,111.75 147.67,114.00 148.70,116.00 C149.73,118.00 150.75,119.50 151.80,122.00 C152.85,124.50 153.97,128.00 155.00,131.00 C156.03,134.00 156.92,136.92 158.00,140.00 C159.08,143.08 160.25,146.50 161.50,149.50 C162.75,152.50 164.08,155.50 165.50,158.00 C166.92,160.50 168.08,162.58 170.00,164.50 C171.92,166.42 173.88,168.02 177.00,169.50 C180.12,170.98 185.13,172.52 188.70,173.40 C192.27,174.28 195.18,174.57 198.40,174.80 C201.62,175.03 204.78,174.97 208.00,174.80 C211.22,174.63 214.47,174.22 217.70,173.80 C220.93,173.38 224.32,173.15 227.40,172.30 C230.48,171.45 233.70,169.62 236.20,168.70 C238.70,167.78 240.60,166.80 242.40,166.80 C244.20,166.80 245.45,167.73 247.00,168.70 C248.55,169.67 250.15,171.05 251.70,172.60 C253.25,174.15 254.75,176.10 256.30,178.00 C257.85,179.90 259.58,182.63 261.00,184.00 C262.42,185.37 263.38,185.60 264.80,186.20 C266.22,186.80 268.08,186.88 269.50,187.60 C270.92,188.32 271.88,189.47 273.30,190.50 C274.72,191.53 276.18,192.78 278.00,193.80 C279.82,194.82 281.88,195.57 284.20,196.60 C286.52,197.63 289.32,198.93 291.90,200.00 C294.48,201.07 297.13,202.13 299.70,203.00 C302.27,203.87 306.03,204.83 307.30,205.20" stroke="#1A1A1A" stroke-width="4" fill="none" stroke-linejoin="round"/></g></g>
<g mask="url(#mLeftA)"><g clip-path="url(#cyanA)"><path d="M61.80,180.50 C62.17,180.35 62.30,180.70 64.00,179.60 C65.70,178.50 69.75,175.50 72.00,173.90 C74.25,172.30 75.77,171.38 77.50,170.00 C79.23,168.62 80.98,167.18 82.40,165.60 C83.82,164.02 84.90,162.35 86.00,160.50 C87.10,158.65 88.00,156.83 89.00,154.50 C90.00,152.17 91.08,149.00 92.00,146.50 C92.92,144.00 93.67,141.83 94.50,139.50 C95.33,137.17 96.08,135.67 97.00,132.50 C97.92,129.33 98.92,124.25 100.00,120.50 C101.08,116.75 102.40,112.78 103.50,110.00 C104.60,107.22 105.12,105.23 106.60,103.80 C108.08,102.37 110.50,101.80 112.40,101.40 C114.30,101.00 116.07,101.45 118.00,101.40 C119.93,101.35 122.03,101.15 124.00,101.10 C125.97,101.05 127.87,101.10 129.80,101.10 C131.73,101.10 133.70,100.88 135.60,101.10 C137.50,101.32 139.70,101.67 141.20,102.40 C142.70,103.13 143.87,104.23 144.60,105.50 C145.33,106.77 144.92,108.25 145.60,110.00 C146.28,111.75 147.67,114.00 148.70,116.00 C149.73,118.00 150.75,119.50 151.80,122.00 C152.85,124.50 153.97,128.00 155.00,131.00 C156.03,134.00 156.92,136.92 158.00,140.00 C159.08,143.08 160.25,146.50 161.50,149.50 C162.75,152.50 164.08,155.50 165.50,158.00 C166.92,160.50 168.08,162.58 170.00,164.50 C171.92,166.42 173.88,168.02 177.00,169.50 C180.12,170.98 185.13,172.52 188.70,173.40 C192.27,174.28 195.18,174.57 198.40,174.80 C201.62,175.03 204.78,174.97 208.00,174.80 C211.22,174.63 214.47,174.22 217.70,173.80 C220.93,173.38 224.32,173.15 227.40,172.30 C230.48,171.45 233.70,169.62 236.20,168.70 C238.70,167.78 240.60,166.80 242.40,166.80 C244.20,166.80 245.45,167.73 247.00,168.70 C248.55,169.67 250.15,171.05 251.70,172.60 C253.25,174.15 254.75,176.10 256.30,178.00 C257.85,179.90 259.58,182.63 261.00,184.00 C262.42,185.37 263.38,185.60 264.80,186.20 C266.22,186.80 268.08,186.88 269.50,187.60 C270.92,188.32 271.88,189.47 273.30,190.50 C274.72,191.53 276.18,192.78 278.00,193.80 C279.82,194.82 281.88,195.57 284.20,196.60 C286.52,197.63 289.32,198.93 291.90,200.00 C294.48,201.07 297.13,202.13 299.70,203.00 C302.27,203.87 306.03,204.83 307.30,205.20" transform="translate(0,-2.5)" stroke="#64A9B8" stroke-width="3.6" fill="none"/></g></g>
<g mask="url(#mMidA)"><g clip-path="url(#cyanA)"><path d="M61.80,180.50 C62.17,180.35 62.30,180.70 64.00,179.60 C65.70,178.50 69.75,175.50 72.00,173.90 C74.25,172.30 75.77,171.38 77.50,170.00 C79.23,168.62 80.98,167.18 82.40,165.60 C83.82,164.02 84.90,162.35 86.00,160.50 C87.10,158.65 88.00,156.83 89.00,154.50 C90.00,152.17 91.08,149.00 92.00,146.50 C92.92,144.00 93.67,141.83 94.50,139.50 C95.33,137.17 96.08,135.67 97.00,132.50 C97.92,129.33 98.92,124.25 100.00,120.50 C101.08,116.75 102.40,112.78 103.50,110.00 C104.60,107.22 105.12,105.23 106.60,103.80 C108.08,102.37 110.50,101.80 112.40,101.40 C114.30,101.00 116.07,101.45 118.00,101.40 C119.93,101.35 122.03,101.15 124.00,101.10 C125.97,101.05 127.87,101.10 129.80,101.10 C131.73,101.10 133.70,100.88 135.60,101.10 C137.50,101.32 139.70,101.67 141.20,102.40 C142.70,103.13 143.87,104.23 144.60,105.50 C145.33,106.77 144.92,108.25 145.60,110.00 C146.28,111.75 147.67,114.00 148.70,116.00 C149.73,118.00 150.75,119.50 151.80,122.00 C152.85,124.50 153.97,128.00 155.00,131.00 C156.03,134.00 156.92,136.92 158.00,140.00 C159.08,143.08 160.25,146.50 161.50,149.50 C162.75,152.50 164.08,155.50 165.50,158.00 C166.92,160.50 168.08,162.58 170.00,164.50 C171.92,166.42 173.88,168.02 177.00,169.50 C180.12,170.98 185.13,172.52 188.70,173.40 C192.27,174.28 195.18,174.57 198.40,174.80 C201.62,175.03 204.78,174.97 208.00,174.80 C211.22,174.63 214.47,174.22 217.70,173.80 C220.93,173.38 224.32,173.15 227.40,172.30 C230.48,171.45 233.70,169.62 236.20,168.70 C238.70,167.78 240.60,166.80 242.40,166.80 C244.20,166.80 245.45,167.73 247.00,168.70 C248.55,169.67 250.15,171.05 251.70,172.60 C253.25,174.15 254.75,176.10 256.30,178.00 C257.85,179.90 259.58,182.63 261.00,184.00 C262.42,185.37 263.38,185.60 264.80,186.20 C266.22,186.80 268.08,186.88 269.50,187.60 C270.92,188.32 271.88,189.47 273.30,190.50 C274.72,191.53 276.18,192.78 278.00,193.80 C279.82,194.82 281.88,195.57 284.20,196.60 C286.52,197.63 289.32,198.93 291.90,200.00 C294.48,201.07 297.13,202.13 299.70,203.00 C302.27,203.87 306.03,204.83 307.30,205.20" stroke="#5E9FAE" stroke-width="4.2" fill="none"/></g></g>
</g>
<rect x="61.80" y="25.00" width="245.90" height="184.00" fill="none" stroke="#3a3a3a" stroke-width="1.20"/>
<path d="M61.80,209.00v3.50M61.80,25.00v-3.50M102.78,209.00v3.50M102.78,25.00v-3.50M143.77,209.00v3.50M143.77,25.00v-3.50M184.75,209.00v3.50M184.75,25.00v-3.50M225.73,209.00v3.50M225.73,25.00v-3.50M266.72,209.00v3.50M266.72,25.00v-3.50M307.70,209.00v3.50M307.70,25.00v-3.50M61.80,209.00h-3.50M307.70,209.00h3.50M61.80,182.71h-3.50M307.70,182.71h3.50M61.80,156.43h-3.50M307.70,156.43h3.50M61.80,130.14h-3.50M307.70,130.14h3.50M61.80,103.86h-3.50M307.70,103.86h3.50M61.80,77.57h-3.50M307.70,77.57h3.50M61.80,51.29h-3.50M307.70,51.29h3.50M61.80,25.00h-3.50M307.70,25.00h3.50" stroke="#3a3a3a" stroke-width="1" fill="none"/>
<rect x="181.9" y="38.3" width="26.7" height="13.3" fill="#E69A47"/>
<rect x="181.9" y="42.9" width="26.7" height="4.2" fill="#1A1A1A"/>
<rect x="181.9" y="58.1" width="26.7" height="13.5" fill="#7BCCD9"/>
<rect x="181.9" y="62.8" width="26.7" height="4.1" fill="#666666"/>
<text x="212.20" y="50.00" font-size="15.25" text-anchor="start" font-weight="normal" font-style="normal" fill="#141414"><tspan font-style="italic">15q dup</tspan>, n=6</text>
<text x="211.00" y="70.00" font-size="15.4" text-anchor="start" font-weight="normal" font-style="normal" fill="#141414">WT, n=8</text>
<text x="179.80" y="92.30" font-size="15.4" text-anchor="start" font-weight="normal" font-style="normal" fill="#141414">mean±95%CI</text>
<text x="66.30" y="43.00" font-size="16" text-anchor="start" font-weight="normal" font-style="normal" fill="#141414">6h</text>
<text transform="translate(61.20,227.30) scale(1,1.045)" font-size="15.5" text-anchor="middle" font-weight="normal" font-style="normal" fill="#141414">2</text>
<text transform="translate(102.18,227.30) scale(1,1.045)" font-size="15.5" text-anchor="middle" font-weight="normal" font-style="normal" fill="#141414">4</text>
<text transform="translate(143.17,227.30) scale(1,1.045)" font-size="15.5" text-anchor="middle" font-weight="normal" font-style="normal" fill="#141414">8</text>
<text transform="translate(183.55,227.30) scale(1,1.045)" font-size="15.5" text-anchor="middle" font-weight="normal" font-style="normal" fill="#141414">16</text>
<text transform="translate(225.13,227.30) scale(1,1.045)" font-size="15.5" text-anchor="middle" font-weight="normal" font-style="normal" fill="#141414">32</text>
<text transform="translate(266.12,227.30) scale(1,1.045)" font-size="15.5" text-anchor="middle" font-weight="normal" font-style="normal" fill="#141414">64</text>
<text transform="translate(306.50,227.30) scale(1,1.045)" font-size="15.5" text-anchor="middle" font-weight="normal" font-style="normal" fill="#141414">128</text>
<text x="54.90" y="214.20" font-size="15" text-anchor="end" font-weight="normal" font-style="normal" fill="#141414">0</text>
<text x="54.90" y="161.63" font-size="15" text-anchor="end" font-weight="normal" font-style="normal" fill="#141414">4</text>
<text x="54.90" y="109.06" font-size="15" text-anchor="end" font-weight="normal" font-style="normal" fill="#141414">8</text>
<text x="54.90" y="56.49" font-size="15" text-anchor="end" font-weight="normal" font-style="normal" fill="#141414">12</text>
<text x="185.50" y="245.30" font-size="18.5" text-anchor="middle" font-weight="normal" font-style="normal" fill="#141414">Frequency (Hz)</text>
<text x="185.00" y="15.20" font-size="18.5" text-anchor="middle" font-weight="normal" font-style="normal" fill="#141414">Powerspectrum</text>
<text x="9.50" y="14.00" font-size="18" text-anchor="start" font-weight="bold" font-style="normal" fill="#141414">A</text>
<text x="32.60" y="24.40" font-size="15" text-anchor="start" font-weight="normal" font-style="normal" fill="#141414">*</text>
<text x="39.30" y="24.90" font-size="15.4" text-anchor="start" font-weight="normal" font-style="normal" fill="#141414">10</text>
<text x="55.70" y="19.70" font-size="9.5" text-anchor="start" font-weight="normal" font-style="normal" fill="#141414">3</text>
<text transform="translate(30.2,120.1) rotate(-90)" x="0" y="0" font-size="18.2" text-anchor="middle" fill="#141414">Power (µV<tspan font-size="12" dy="-6.5">2</tspan><tspan dy="6.5">/log</tspan><tspan font-size="12" dy="4.5">2</tspan><tspan dy="-4.5">(Hz))</tspan></text>
<clipPath id="clipB"><rect x="408.50" y="25.00" width="245.70" height="184.00"/></clipPath>
<g clip-path="url(#clipB)">
<path d="M408.50,86.60 C409.93,85.80 414.05,83.50 417.10,81.80 C420.15,80.10 423.98,78.02 426.80,76.40 C429.62,74.78 431.58,73.30 434.00,72.10 C436.42,70.90 439.28,69.40 441.30,69.20 C443.32,69.00 444.08,69.62 446.10,70.90 C448.12,72.18 450.58,75.17 453.40,76.90 C456.22,78.63 459.78,80.08 463.00,81.30 C466.22,82.52 469.47,82.92 472.70,84.20 C475.93,85.48 479.58,86.58 482.40,89.00 C485.22,91.42 487.67,96.18 489.60,98.70 C491.53,101.22 492.58,102.45 494.00,104.10 C495.42,105.75 496.73,107.88 498.10,108.60 C499.47,109.32 500.62,109.12 502.20,108.40 C503.78,107.68 506.02,105.67 507.60,104.30 C509.18,102.93 509.87,101.67 511.70,100.20 C513.53,98.73 516.38,97.17 518.60,95.50 C520.82,93.83 522.25,92.55 525.00,90.20 C527.75,87.85 531.75,84.12 535.10,81.40 C538.45,78.68 541.75,76.23 545.10,73.90 C548.45,71.57 552.72,68.90 555.20,67.40 C557.68,65.90 558.43,65.52 560.00,64.90 C561.57,64.28 563.05,64.28 564.60,63.70 C566.15,63.12 567.87,62.57 569.30,61.40 C570.73,60.23 571.92,58.90 573.20,56.70 C574.48,54.50 575.72,51.28 577.00,48.20 C578.28,45.12 579.73,40.52 580.90,38.20 C582.07,35.88 583.15,35.08 584.00,34.30 C584.85,33.52 585.23,32.73 586.00,33.50 C586.77,34.27 587.65,36.18 588.60,38.90 C589.55,41.62 590.53,45.67 591.70,49.80 C592.87,53.93 594.30,59.58 595.60,63.70 C596.90,67.82 598.33,72.08 599.50,74.50 C600.67,76.92 601.45,78.07 602.60,78.20 C603.75,78.33 605.12,76.48 606.40,75.30 C607.68,74.12 609.13,71.87 610.30,71.10 C611.47,70.33 612.23,69.87 613.40,70.70 C614.57,71.53 615.88,73.65 617.30,76.10 C618.72,78.55 620.35,82.43 621.90,85.40 C623.45,88.37 624.92,90.80 626.60,93.90 C628.28,97.00 630.28,101.00 632.00,104.00 C633.72,107.00 634.83,109.33 636.90,111.90 C638.97,114.47 641.52,117.38 644.40,119.40 C647.28,121.42 652.57,123.23 654.20,124.00 L654.20,164.40 C653.20,164.20 650.45,163.83 648.20,163.20 C645.95,162.57 643.22,161.87 640.70,160.60 C638.18,159.33 635.62,157.48 633.10,155.60 C630.58,153.72 628.12,151.40 625.60,149.30 C623.08,147.20 620.52,145.10 618.00,143.00 C615.48,140.90 613.00,138.37 610.50,136.70 C608.00,135.03 605.52,134.03 603.00,133.00 C600.48,131.97 597.92,131.13 595.40,130.50 C592.88,129.87 590.83,129.42 587.90,129.20 C584.97,128.98 580.73,129.48 577.80,129.20 C574.87,128.92 573.23,128.45 570.30,127.50 C567.37,126.55 562.58,124.38 560.20,123.50 C557.82,122.62 557.55,122.40 556.00,122.20 C554.45,122.00 552.87,121.93 550.90,122.30 C548.93,122.67 546.45,123.60 544.20,124.40 C541.95,125.20 539.67,125.75 537.40,127.10 C535.13,128.45 532.87,130.58 530.60,132.50 C528.33,134.42 526.05,137.02 523.80,138.60 C521.55,140.18 519.35,140.77 517.10,142.00 C514.85,143.23 512.57,144.65 510.30,146.00 C508.03,147.35 505.75,148.97 503.50,150.10 C501.25,151.23 499.05,152.58 496.80,152.80 C494.55,153.02 492.40,152.37 490.00,151.40 C487.60,150.43 485.28,148.13 482.40,147.00 C479.52,145.87 475.53,144.80 472.70,144.60 C469.87,144.40 468.22,145.32 465.40,145.80 C462.58,146.28 459.02,147.10 455.80,147.50 C452.58,147.90 449.33,147.80 446.10,148.20 C442.87,148.60 439.62,149.08 436.40,149.90 C433.18,150.72 430.02,151.97 426.80,153.10 C423.58,154.23 420.15,155.70 417.10,156.70 C414.05,157.70 409.93,158.70 408.50,159.10 Z" fill="#BFC0C2"/>
<path d="M408.50,135.40H654.20" stroke="#1A1A1A" stroke-width="1.2"/>
<rect x="535.8" y="131.80" width="28.2" height="7.2" fill="#1A1A1A"/>
<path d="M408.50,130.80 C409.93,130.60 414.47,130.32 417.10,129.60 C419.73,128.88 421.88,127.55 424.30,126.50 C426.72,125.45 429.18,124.38 431.60,123.30 C434.02,122.22 436.38,120.88 438.80,120.00 C441.22,119.12 443.67,118.13 446.10,118.00 C448.53,117.87 451.18,118.87 453.40,119.20 C455.62,119.53 457.40,120.07 459.40,120.00 C461.40,119.93 463.18,119.13 465.40,118.80 C467.62,118.47 470.27,117.73 472.70,118.00 C475.13,118.27 477.58,118.98 480.00,120.40 C482.42,121.82 484.85,124.60 487.20,126.50 C489.55,128.40 492.28,130.65 494.10,131.80 C495.92,132.95 496.75,133.27 498.10,133.40 C499.45,133.53 500.62,133.63 502.20,132.60 C503.78,131.57 505.57,129.02 507.60,127.20 C509.63,125.38 512.15,123.53 514.40,121.70 C516.65,119.87 518.85,118.02 521.10,116.20 C523.35,114.38 525.63,112.37 527.90,110.80 C530.17,109.23 532.45,108.03 534.70,106.80 C536.95,105.57 539.15,104.45 541.40,103.40 C543.65,102.35 545.90,101.48 548.20,100.50 C550.50,99.52 553.23,98.08 555.20,97.50 C557.17,96.92 558.17,96.58 560.00,97.00 C561.83,97.42 564.27,99.42 566.20,100.00 C568.13,100.58 569.80,101.13 571.60,100.50 C573.40,99.87 575.32,97.68 577.00,96.20 C578.68,94.72 580.28,92.50 581.70,91.60 C583.12,90.70 584.22,90.42 585.50,90.80 C586.78,91.18 588.10,92.48 589.40,93.90 C590.70,95.32 592.03,97.28 593.30,99.30 C594.57,101.32 595.60,104.17 597.00,106.00 C598.40,107.83 600.08,109.70 601.70,110.30 C603.32,110.90 605.03,109.80 606.70,109.60 C608.37,109.40 609.90,108.43 611.70,109.10 C613.50,109.77 615.45,111.52 617.50,113.60 C619.55,115.68 621.58,118.53 624.00,121.60 C626.42,124.67 629.50,128.93 632.00,132.00 C634.50,135.07 636.67,137.70 639.00,140.00 C641.33,142.30 643.50,144.38 646.00,145.80 C648.50,147.22 652.67,148.05 654.00,148.50" stroke="#1A1A1A" stroke-width="4" fill="none" stroke-linejoin="round"/>
</g>
<rect x="408.50" y="25.00" width="245.70" height="184.00" fill="none" stroke="#3a3a3a" stroke-width="1.20"/>
<path d="M408.50,209.00v3.50M408.50,25.00v-3.50M449.45,209.00v3.50M449.45,25.00v-3.50M490.40,209.00v3.50M490.40,25.00v-3.50M531.35,209.00v3.50M531.35,25.00v-3.50M572.30,209.00v3.50M572.30,25.00v-3.50M613.25,209.00v3.50M613.25,25.00v-3.50M654.20,209.00v3.50M654.20,25.00v-3.50M408.50,209.00h-3.50M654.20,209.00h3.50M408.50,172.20h-3.50M654.20,172.20h3.50M408.50,135.40h-3.50M654.20,135.40h3.50M408.50,98.60h-3.50M654.20,98.60h3.50M408.50,61.80h-3.50M654.20,61.80h3.50M408.50,25.00h-3.50M654.20,25.00h3.50" stroke="#3a3a3a" stroke-width="1" fill="none"/>
<rect x="414.9" y="173.0" width="27.1" height="13.4" fill="#BFC0C2"/>
<rect x="414.9" y="177.6" width="27.1" height="4.1" fill="#1A1A1A"/>
<rect x="418.3" y="193.5" width="20.9" height="7.2" fill="#1A1A1A"/>
<text x="444.40" y="185.60" font-size="15.4" text-anchor="start" font-weight="normal" font-style="normal" fill="#141414">mean±95%CI</text>
<text x="444.40" y="201.00" font-size="15.4" text-anchor="start" font-weight="normal" font-style="normal" fill="#141414">P&lt;0.05, corr</text>
<text x="580.40" y="181.60" font-size="15.4" text-anchor="start" font-weight="normal" font-style="normal" fill="#141414">n</text>
<text x="589.60" y="186.60" font-size="9" text-anchor="start" font-weight="normal" font-style="italic" fill="#141414">15q dup</text>
<text x="621.00" y="181.60" font-size="15.4" text-anchor="start" font-weight="normal" font-style="normal" fill="#141414">=6</text>
<text x="580.40" y="199.10" font-size="15.4" text-anchor="start" font-weight="normal" font-style="normal" fill="#141414">n</text>
<text x="589.20" y="204.60" font-size="9.4" text-anchor="start" font-weight="normal" font-style="normal" fill="#141414">WT</text>
<text x="602.60" y="199.10" font-size="15.4" text-anchor="start" font-weight="normal" font-style="normal" fill="#141414">=8</text>
<text x="413.00" y="44.00" font-size="16" text-anchor="start" font-weight="normal" font-style="normal" fill="#141414">6h</text>
<text transform="translate(407.90,227.50) scale(1,1.045)" font-size="15.5" text-anchor="middle" font-weight="normal" font-style="normal" fill="#141414">2</text>
<text transform="translate(448.85,227.50) scale(1,1.045)" font-size="15.5" text-anchor="middle" font-weight="normal" font-style="normal" fill="#141414">4</text>
<text transform="translate(489.80,227.50) scale(1,1.045)" font-size="15.5" text-anchor="middle" font-weight="normal" font-style="normal" fill="#141414">8</text>
<text transform="translate(530.15,227.50) scale(1,1.045)" font-size="15.5" text-anchor="middle" font-weight="normal" font-style="normal" fill="#141414">16</text>
<text transform="translate(571.70,227.50) scale(1,1.045)" font-size="15.5" text-anchor="middle" font-weight="normal" font-style="normal" fill="#141414">32</text>
<text transform="translate(612.65,227.50) scale(1,1.045)" font-size="15.5" text-anchor="middle" font-weight="normal" font-style="normal" fill="#141414">64</text>
<text transform="translate(653.00,227.50) scale(1,1.045)" font-size="15.5" text-anchor="middle" font-weight="normal" font-style="normal" fill="#141414">128</text>
<text x="404.00" y="214.20" font-size="15" text-anchor="end" font-weight="normal" font-style="normal" fill="#141414">0</text>
<text x="404.00" y="177.40" font-size="15" text-anchor="end" font-weight="normal" font-style="normal" fill="#141414">50</text>
<text x="404.00" y="140.60" font-size="15" text-anchor="end" font-weight="normal" font-style="normal" fill="#141414">100</text>
<text x="404.00" y="103.80" font-size="15" text-anchor="end" font-weight="normal" font-style="normal" fill="#141414">150</text>
<text x="404.00" y="67.00" font-size="15" text-anchor="end" font-weight="normal" font-style="normal" fill="#141414">200</text>
<text x="404.00" y="30.20" font-size="15" text-anchor="end" font-weight="normal" font-style="normal" fill="#141414">250</text>
<text x="531.50" y="245.30" font-size="18.5" text-anchor="middle" font-weight="normal" font-style="normal" fill="#141414">Frequency (Hz)</text>
<text x="531.50" y="14.50" font-size="18.3" text-anchor="middle" font-weight="normal" font-style="normal" fill="#141414">Phenotype: <tspan font-style="italic">15q dup</tspan> vs WT</text>
<text x="333.20" y="14.00" font-size="18" text-anchor="start" font-weight="bold" font-style="normal" fill="#141414">B</text>
<text transform="translate(353.4,115.6) rotate(-90)" font-size="18.3" text-anchor="middle" fill="#141414">Power Ratio</text>
<text transform="translate(370.9,114.7) rotate(-90)" font-size="18.3" text-anchor="middle" fill="#141414"><tspan font-style="italic">15q dup</tspan> / WT (%)</text>
<clipPath id="clipC"><rect x="61.80" y="287.70" width="245.90" height="184.30"/></clipPath>
<g clip-path="url(#clipC)">
<path d="M61.80,329.50 C62.17,329.67 63.13,330.28 64.00,330.50 C64.87,330.72 66.00,331.22 67.00,330.80 C68.00,330.38 68.85,329.07 70.00,328.00 C71.15,326.93 72.40,325.48 73.90,324.40 C75.40,323.32 77.45,322.37 79.00,321.50 C80.55,320.63 81.73,320.07 83.20,319.20 C84.67,318.33 86.25,317.65 87.80,316.30 C89.35,314.95 91.13,312.40 92.50,311.10 C93.87,309.80 94.85,309.27 96.00,308.50 C97.15,307.73 98.40,307.33 99.40,306.50 C100.40,305.67 101.22,304.57 102.00,303.50 C102.78,302.43 103.35,301.52 104.10,300.10 C104.85,298.68 105.73,296.65 106.50,295.00 C107.27,293.35 107.95,291.17 108.70,290.20 C109.45,289.23 110.03,288.72 111.00,289.20 C111.97,289.68 113.33,290.88 114.50,293.10 C115.67,295.32 116.40,297.80 118.00,302.50 C119.60,307.20 121.88,315.55 124.10,321.30 C126.32,327.05 129.08,332.17 131.30,337.00 C133.52,341.83 135.58,346.05 137.40,350.30 C139.22,354.55 140.65,358.72 142.20,362.50 C143.75,366.28 145.23,369.67 146.70,373.00 C148.17,376.33 149.75,380.53 151.00,382.50 C152.25,384.47 153.12,384.80 154.20,384.80 C155.28,384.80 156.23,384.47 157.50,382.50 C158.77,380.53 160.32,376.58 161.80,373.00 C163.28,369.42 164.83,364.78 166.40,361.00 C167.97,357.22 169.38,353.50 171.20,350.30 C173.02,347.10 175.00,344.30 177.30,341.80 C179.60,339.30 182.87,336.80 185.00,335.30 C187.13,333.80 188.42,333.02 190.10,332.80 C191.78,332.58 193.22,333.25 195.10,334.00 C196.98,334.75 199.10,336.88 201.40,337.30 C203.70,337.72 206.60,336.50 208.90,336.50 C211.20,336.50 213.32,337.08 215.20,337.30 C217.08,337.52 218.52,338.55 220.20,337.80 C221.88,337.05 223.83,335.73 225.30,332.80 C226.77,329.87 227.75,324.40 229.00,320.20 C230.25,316.00 231.53,311.58 232.80,307.60 C234.07,303.62 235.35,298.73 236.60,296.30 C237.85,293.87 239.05,293.00 240.30,293.00 C241.55,293.00 242.83,294.28 244.10,296.30 C245.37,298.32 246.63,301.53 247.90,305.10 C249.17,308.67 250.45,313.08 251.70,317.70 C252.95,322.32 254.15,327.35 255.40,332.80 C256.65,338.25 257.93,344.53 259.20,350.40 C260.47,356.27 261.75,362.65 263.00,368.00 C264.25,373.35 265.45,378.95 266.70,382.50 C267.95,386.05 269.03,387.73 270.50,389.30 C271.97,390.87 273.40,391.35 275.50,391.90 C277.60,392.45 280.58,392.60 283.10,392.60 C285.62,392.60 288.08,392.45 290.60,391.90 C293.12,391.35 295.35,389.93 298.20,389.30 C301.05,388.67 306.12,388.30 307.70,388.10 L307.70,402.70 C305.70,402.45 298.97,401.53 295.70,401.20 C292.43,400.87 290.62,400.58 288.10,400.70 C285.58,400.82 283.12,401.07 280.60,401.90 C278.08,402.73 275.10,404.43 273.00,405.70 C270.90,406.97 269.67,410.33 268.00,409.50 C266.33,408.67 264.67,404.68 263.00,400.70 C261.33,396.72 259.68,390.22 258.00,385.60 C256.32,380.98 254.58,376.35 252.90,373.00 C251.22,369.65 249.57,367.60 247.90,365.50 C246.23,363.40 244.78,361.03 242.90,360.40 C241.02,359.77 238.70,360.85 236.60,361.70 C234.50,362.55 232.40,364.67 230.30,365.50 C228.20,366.33 226.10,367.33 224.00,366.70 C221.90,366.07 219.58,363.37 217.70,361.70 C215.82,360.03 214.37,357.97 212.70,356.70 C211.03,355.43 209.38,353.90 207.70,354.10 C206.02,354.30 204.70,356.42 202.60,357.90 C200.50,359.38 197.62,361.73 195.10,363.00 C192.58,364.27 189.68,363.83 187.50,365.50 C185.32,367.17 183.57,369.95 182.00,373.00 C180.43,376.05 179.83,380.18 178.10,383.80 C176.37,387.42 173.58,390.72 171.60,394.70 C169.62,398.68 167.83,403.37 166.20,407.70 C164.57,412.03 163.25,416.23 161.80,420.70 C160.35,425.17 158.77,431.37 157.50,434.50 C156.23,437.63 155.28,440.00 154.20,439.50 C153.12,439.00 152.25,435.00 151.00,431.50 C149.75,428.00 148.15,422.65 146.70,418.50 C145.25,414.35 143.93,410.57 142.30,406.60 C140.67,402.63 138.70,397.63 136.90,394.70 C135.10,391.77 133.48,390.23 131.50,389.00 C129.52,387.77 127.17,387.88 125.00,387.30 C122.83,386.72 120.83,386.02 118.50,385.50 C116.17,384.98 112.98,383.58 111.00,384.20 C109.02,384.82 108.07,387.10 106.60,389.20 C105.13,391.30 103.65,394.27 102.20,396.80 C100.75,399.33 99.52,402.42 97.90,404.40 C96.28,406.38 95.20,407.87 92.50,408.70 C89.80,409.53 85.32,409.37 81.70,409.40 C78.08,409.43 74.12,408.83 70.80,408.90 C67.48,408.97 63.30,409.65 61.80,409.80 Z" fill="#63C2CF"/>
<path d="M61.80,379.85H307.70" stroke="#1A1A1A" stroke-width="1.2"/>
<rect x="183" y="376.35" width="65" height="7" fill="#1A1A1A"/>
<rect x="268.5" y="376.35" width="40" height="7" fill="#1A1A1A"/>
<path d="M61.80,373.20 C62.50,373.43 64.63,374.77 66.00,374.60 C67.37,374.43 68.58,372.92 70.00,372.20 C71.42,371.48 72.13,370.97 74.50,370.30 C76.87,369.63 80.98,369.12 84.20,368.20 C87.42,367.28 91.33,366.00 93.80,364.80 C96.27,363.60 97.47,362.63 99.00,361.00 C100.53,359.37 101.65,357.18 103.00,355.00 C104.35,352.82 105.85,350.07 107.10,347.90 C108.35,345.73 109.60,343.15 110.50,342.00 C111.40,340.85 111.45,340.43 112.50,341.00 C113.55,341.57 115.07,343.05 116.80,345.40 C118.53,347.75 120.68,352.27 122.90,355.10 C125.12,357.93 128.25,360.42 130.10,362.40 C131.95,364.38 132.85,365.07 134.00,367.00 C135.15,368.93 135.97,371.55 137.00,374.00 C138.03,376.45 139.20,379.03 140.20,381.70 C141.20,384.37 142.10,387.48 143.00,390.00 C143.90,392.52 144.77,394.47 145.60,396.80 C146.43,399.13 147.18,401.72 148.00,404.00 C148.82,406.28 149.57,408.78 150.50,410.50 C151.43,412.22 152.60,413.97 153.60,414.30 C154.60,414.63 155.60,413.88 156.50,412.50 C157.40,411.12 158.12,408.42 159.00,406.00 C159.88,403.58 160.97,400.58 161.80,398.00 C162.63,395.42 163.27,392.87 164.00,390.50 C164.73,388.13 165.37,386.05 166.20,383.80 C167.03,381.55 167.97,379.13 169.00,377.00 C170.03,374.87 170.82,373.63 172.40,371.00 C173.98,368.37 176.40,364.22 178.50,361.20 C180.60,358.18 183.07,354.70 185.00,352.90 C186.93,351.10 188.00,351.03 190.10,350.40 C192.20,349.77 195.30,349.73 197.60,349.10 C199.90,348.47 202.02,347.23 203.90,346.60 C205.78,345.97 207.23,344.88 208.90,345.30 C210.57,345.72 212.02,347.92 213.90,349.10 C215.78,350.28 218.30,352.40 220.20,352.40 C222.10,352.40 223.62,351.32 225.30,349.10 C226.98,346.88 228.63,341.82 230.30,339.10 C231.97,336.38 233.63,334.27 235.30,332.80 C236.97,331.33 238.83,330.30 240.30,330.30 C241.77,330.30 242.83,331.33 244.10,332.80 C245.37,334.27 246.63,336.38 247.90,339.10 C249.17,341.82 250.45,345.55 251.70,349.10 C252.95,352.65 254.15,356.42 255.40,360.40 C256.65,364.38 257.93,368.60 259.20,373.00 C260.47,377.40 261.75,382.82 263.00,386.80 C264.25,390.78 265.23,394.50 266.70,396.90 C268.17,399.30 269.90,400.57 271.80,401.20 C273.70,401.83 275.80,401.00 278.10,400.70 C280.40,400.40 283.08,400.03 285.60,399.40 C288.12,398.77 290.68,397.62 293.20,396.90 C295.72,396.18 298.35,395.32 300.70,395.10 C303.05,394.88 306.20,395.52 307.30,395.60" stroke="#1A1A1A" stroke-width="4.2" fill="none" stroke-linejoin="round"/>
</g>
<rect x="61.80" y="287.70" width="245.90" height="184.30" fill="none" stroke="#3a3a3a" stroke-width="1.20"/>
<path d="M61.80,472.00v3.50M61.80,287.70v-3.50M102.78,472.00v3.50M102.78,287.70v-3.50M143.77,472.00v3.50M143.77,287.70v-3.50M184.75,472.00v3.50M184.75,287.70v-3.50M225.73,472.00v3.50M225.73,287.70v-3.50M266.72,472.00v3.50M266.72,287.70v-3.50M307.70,472.00v3.50M307.70,287.70v-3.50M61.80,472.00h-3.50M307.70,472.00h3.50M61.80,425.93h-3.50M307.70,425.93h3.50M61.80,379.85h-3.50M307.70,379.85h3.50M61.80,333.77h-3.50M307.70,333.77h3.50M61.80,287.70h-3.50M307.70,287.70h3.50" stroke="#3a3a3a" stroke-width="1" fill="none"/>
<rect x="67.6" y="438.7" width="27" height="13.2" fill="#63C2CF"/>
<rect x="67.6" y="443.1" width="27" height="4.0" fill="#4f5a5e"/>
<rect x="70.8" y="459.2" width="20.6" height="7.2" fill="#1A1A1A"/>
<text x="97.30" y="450.60" font-size="15.4" text-anchor="start" font-weight="normal" font-style="normal" fill="#141414">mean±95%CI</text>
<text x="97.50" y="467.30" font-size="15.4" text-anchor="start" font-weight="normal" font-style="normal" fill="#141414">P&lt;0.05</text>
<text x="274.00" y="465.20" font-size="15.4" text-anchor="start" font-weight="normal" font-style="normal" fill="#141414">n=8</text>
<text x="67.00" y="306.00" font-size="16" text-anchor="start" font-weight="normal" font-style="normal" fill="#141414">3h</text>
<text transform="translate(61.20,490.40) scale(1,1.045)" font-size="15.5" text-anchor="middle" font-weight="normal" font-style="normal" fill="#141414">2</text>
<text transform="translate(102.18,490.40) scale(1,1.045)" font-size="15.5" text-anchor="middle" font-weight="normal" font-style="normal" fill="#141414">4</text>
<text transform="translate(143.17,490.40) scale(1,1.045)" font-size="15.5" text-anchor="middle" font-weight="normal" font-style="normal" fill="#141414">8</text>
<text transform="translate(183.55,490.40) scale(1,1.045)" font-size="15.5" text-anchor="middle" font-weight="normal" font-style="normal" fill="#141414">16</text>
<text transform="translate(225.13,490.40) scale(1,1.045)" font-size="15.5" text-anchor="middle" font-weight="normal" font-style="normal" fill="#141414">32</text>
<text transform="translate(266.12,490.40) scale(1,1.045)" font-size="15.5" text-anchor="middle" font-weight="normal" font-style="normal" fill="#141414">64</text>
<text transform="translate(306.50,490.40) scale(1,1.045)" font-size="15.5" text-anchor="middle" font-weight="normal" font-style="normal" fill="#141414">128</text>
<text x="57.60" y="477.20" font-size="15" text-anchor="end" font-weight="normal" font-style="normal" fill="#141414">-50</text>
<text x="57.60" y="431.12" font-size="15" text-anchor="end" font-weight="normal" font-style="normal" fill="#141414">-25</text>
<text x="57.60" y="385.05" font-size="15" text-anchor="end" font-weight="normal" font-style="normal" fill="#141414">0</text>
<text x="57.60" y="338.97" font-size="15" text-anchor="end" font-weight="normal" font-style="normal" fill="#141414">25</text>
<text x="57.60" y="292.90" font-size="15" text-anchor="end" font-weight="normal" font-style="normal" fill="#141414">50</text>
<text x="185.00" y="508.30" font-size="18.5" text-anchor="middle" font-weight="normal" font-style="normal" fill="#141414">Frequency (Hz)</text>
<text x="184.70" y="277.60" font-size="18.3" text-anchor="middle" font-weight="normal" font-style="normal" fill="#141414">WT DZP</text>
<text x="0.60" y="277.40" font-size="18" text-anchor="start" font-weight="bold" font-style="normal" fill="#141414">C</text>
<text transform="translate(15.9,377.8) rotate(-90)" font-size="18.4" text-anchor="middle" fill="#141414">Power Change to</text>
<text transform="translate(34.6,376.4) rotate(-90)" font-size="18.4" text-anchor="middle" fill="#141414">Vehicle (%)</text>
<clipPath id="clipDL"><rect x="402.20" y="290.10" width="122.50" height="184.50"/></clipPath>
<clipPath id="clipDR"><rect x="552.40" y="290.10" width="122.90" height="184.50"/></clipPath>
<g clip-path="url(#clipDL)">
<path d="M403.60,385.00 L409.60,389.80 L421.20,400.10 L430.50,408.20 L438.60,415.20 L446.80,417.60 L456.10,419.90 L465.10,417.90 L474.10,415.00 L483.10,411.70 L492.10,408.30 L501.10,404.90 L510.00,402.60 L519.00,400.40 L524.70,399.60 L524.70,448.50 L516.80,451.20 L510.00,454.30 L501.10,455.40 L492.10,455.90 L483.10,455.40 L474.10,454.30 L465.10,452.50 L456.10,451.00 L448.30,449.40 L439.30,448.00 L431.40,448.20 L422.50,449.80 L413.50,452.10 L403.60,454.30 Z" fill="#E69A47"/>
<path d="M402.20,400.80H524.70" stroke="#1A1A1A" stroke-width="1.2"/>
<rect x="433.2" y="397.15" width="48.1" height="7.3" fill="#1A1A1A"/>
<path d="M403.60,421.10 C405.25,421.70 410.35,423.58 413.50,424.70 C416.65,425.82 419.52,426.80 422.50,427.80 C425.48,428.80 428.42,429.83 431.40,430.70 C434.38,431.57 437.40,432.35 440.40,433.00 C443.40,433.65 446.78,434.20 449.40,434.60 C452.02,435.00 453.48,435.30 456.10,435.40 C458.72,435.50 462.10,435.30 465.10,435.20 C468.10,435.10 471.10,435.05 474.10,434.80 C477.10,434.55 480.10,434.12 483.10,433.70 C486.10,433.28 489.10,432.87 492.10,432.30 C495.10,431.73 498.12,431.02 501.10,430.30 C504.08,429.58 507.02,428.75 510.00,428.00 C512.98,427.25 516.55,426.43 519.00,425.80 C521.45,425.17 523.75,424.47 524.70,424.20" stroke="#1A1A1A" stroke-width="4.2" fill="none" stroke-linejoin="round"/>
</g>
<g clip-path="url(#clipDR)">
<path d="M554.40,347.20 L571.30,356.80 L588.30,367.40 L607.40,376.20 L624.50,381.30 L641.50,385.50 L658.50,388.70 L675.30,389.40 L675.30,414.90 L658.50,412.10 L641.50,409.60 L624.50,405.30 L607.40,401.70 L590.40,403.60 L571.30,408.30 L554.40,409.60 Z" fill="#63C2CF"/>
<path d="M552.40,400.80H675.30" stroke="#1A1A1A" stroke-width="1.2"/>
<path d="M554.40,379.80 C558.98,380.75 573.07,383.82 581.90,385.50 C590.73,387.18 598.53,388.12 607.40,389.90 C616.27,391.68 626.93,394.45 635.10,396.20 C643.27,397.95 649.70,399.30 656.40,400.40 C663.10,401.50 672.15,402.40 675.30,402.80" stroke="#1A1A1A" stroke-width="4.2" fill="none" stroke-linejoin="round"/>
</g>
<rect x="402.20" y="290.10" width="122.50" height="184.50" fill="none" stroke="#3a3a3a" stroke-width="1.20"/>
<path d="M402.20,474.60v3.50M402.20,290.10v-3.50M431.00,474.60v3.50M431.00,290.10v-3.50M457.28,474.60v3.50M457.28,290.10v-3.50M481.47,474.60v3.50M481.47,290.10v-3.50M503.86,474.60v3.50M503.86,290.10v-3.50M524.70,474.60v3.50M524.70,290.10v-3.50M402.20,474.60h-3.50M524.70,474.60h3.50M402.20,437.70h-3.50M524.70,437.70h3.50M402.20,400.80h-3.50M524.70,400.80h3.50M402.20,363.90h-3.50M524.70,363.90h3.50M402.20,327.00h-3.50M524.70,327.00h3.50M402.20,290.10h-3.50M524.70,290.10h3.50" stroke="#3a3a3a" stroke-width="1" fill="none"/>
<rect x="552.40" y="290.10" width="122.90" height="184.50" fill="none" stroke="#3a3a3a" stroke-width="1.20"/>
<path d="M552.40,474.60v3.50M552.40,290.10v-3.50M581.29,474.60v3.50M581.29,290.10v-3.50M607.66,474.60v3.50M607.66,290.10v-3.50M631.92,474.60v3.50M631.92,290.10v-3.50M654.39,474.60v3.50M654.39,290.10v-3.50M675.30,474.60v3.50M675.30,290.10v-3.50M552.40,474.60h-3.50M675.30,474.60h3.50M552.40,437.70h-3.50M675.30,437.70h3.50M552.40,400.80h-3.50M675.30,400.80h3.50M552.40,363.90h-3.50M675.30,363.90h3.50M552.40,327.00h-3.50M675.30,327.00h3.50M552.40,290.10h-3.50M675.30,290.10h3.50" stroke="#3a3a3a" stroke-width="1" fill="none"/>
<rect x="408.5" y="327.6" width="27.2" height="13.3" fill="#E69A47"/>
<rect x="408.5" y="332.2" width="27.2" height="4.0" fill="#1A1A1A"/>
<rect x="410.4" y="348.5" width="20.9" height="7.2" fill="#1A1A1A"/>
<rect x="557.7" y="450.6" width="26.5" height="13.9" fill="#63C2CF"/>
<rect x="557.7" y="455.4" width="26.5" height="4.4" fill="#4f5a5e"/>
<text x="439.00" y="340.60" font-size="15.4" text-anchor="start" font-weight="normal" font-style="normal" fill="#141414">m±95%CI</text>
<text x="437.30" y="357.00" font-size="15.4" text-anchor="start" font-weight="normal" font-style="normal" fill="#141414">P&lt;0.05, corr</text>
<text x="493.50" y="470.30" font-size="15.4" text-anchor="start" font-weight="normal" font-style="normal" fill="#141414">n=6</text>
<text x="407.80" y="309.40" font-size="16" text-anchor="start" font-weight="normal" font-style="normal" fill="#141414">3h</text>
<text x="559.20" y="309.60" font-size="16" text-anchor="start" font-weight="normal" font-style="normal" fill="#141414">3h</text>
<text x="640.80" y="309.60" font-size="15.4" text-anchor="start" font-weight="normal" font-style="normal" fill="#141414">n=8</text>
<text x="586.50" y="462.20" font-size="15.4" text-anchor="start" font-weight="normal" font-style="normal" fill="#141414">m±95%CI</text>
<text transform="translate(401.40,493.20) scale(1,1.045)" font-size="15.5" text-anchor="middle" font-weight="normal" font-style="normal" fill="#141414">20</text>
<text transform="translate(430.20,493.20) scale(1,1.045)" font-size="15.5" text-anchor="middle" font-weight="normal" font-style="normal" fill="#141414">22</text>
<text transform="translate(456.48,493.20) scale(1,1.045)" font-size="15.5" text-anchor="middle" font-weight="normal" font-style="normal" fill="#141414">24</text>
<text transform="translate(480.67,493.20) scale(1,1.045)" font-size="15.5" text-anchor="middle" font-weight="normal" font-style="normal" fill="#141414">26</text>
<text transform="translate(503.06,493.20) scale(1,1.045)" font-size="15.5" text-anchor="middle" font-weight="normal" font-style="normal" fill="#141414">28</text>
<text transform="translate(523.90,493.20) scale(1,1.045)" font-size="15.5" text-anchor="middle" font-weight="normal" font-style="normal" fill="#141414">30</text>
<text transform="translate(551.60,493.20) scale(1,1.045)" font-size="15.5" text-anchor="middle" font-weight="normal" font-style="normal" fill="#141414">20</text>
<text transform="translate(580.49,493.20) scale(1,1.045)" font-size="15.5" text-anchor="middle" font-weight="normal" font-style="normal" fill="#141414">22</text>
<text transform="translate(606.86,493.20) scale(1,1.045)" font-size="15.5" text-anchor="middle" font-weight="normal" font-style="normal" fill="#141414">24</text>
<text transform="translate(631.12,493.20) scale(1,1.045)" font-size="15.5" text-anchor="middle" font-weight="normal" font-style="normal" fill="#141414">26</text>
<text transform="translate(653.59,493.20) scale(1,1.045)" font-size="15.5" text-anchor="middle" font-weight="normal" font-style="normal" fill="#141414">28</text>
<text transform="translate(674.50,493.20) scale(1,1.045)" font-size="15.5" text-anchor="middle" font-weight="normal" font-style="normal" fill="#141414">30</text>
<text x="396.20" y="479.80" font-size="15" text-anchor="end" font-weight="normal" font-style="normal" fill="#141414">-20</text>
<text x="396.20" y="442.90" font-size="15" text-anchor="end" font-weight="normal" font-style="normal" fill="#141414">-10</text>
<text x="396.20" y="406.00" font-size="15" text-anchor="end" font-weight="normal" font-style="normal" fill="#141414">0</text>
<text x="396.20" y="369.10" font-size="15" text-anchor="end" font-weight="normal" font-style="normal" fill="#141414">10</text>
<text x="396.20" y="332.20" font-size="15" text-anchor="end" font-weight="normal" font-style="normal" fill="#141414">20</text>
<text x="396.20" y="295.30" font-size="15" text-anchor="end" font-weight="normal" font-style="normal" fill="#141414">30</text>
<text x="463.50" y="510.40" font-size="18.5" text-anchor="middle" font-weight="normal" font-style="normal" fill="#141414">Frequency (Hz)</text>
<text x="617.00" y="510.50" font-size="18.5" text-anchor="middle" font-weight="normal" font-style="normal" fill="#141414">Frequency (Hz)</text>
<text x="370.00" y="277.60" font-size="18.3" text-anchor="start" font-weight="normal" font-style="normal" fill="#141414"><tspan font-style="italic">15q dup</tspan> RO4938581</text>
<text x="613.50" y="277.60" font-size="18.3" text-anchor="middle" font-weight="normal" font-style="normal" fill="#141414">WT RO4938581</text>
<text x="333.20" y="277.60" font-size="18" text-anchor="start" font-weight="bold" font-style="normal" fill="#141414">D</text>
<text transform="translate(346.9,384.5) rotate(-90)" font-size="18.4" text-anchor="middle" fill="#141414">Power Change to</text>
<text transform="translate(364.9,385.1) rotate(-90)" font-size="18.4" text-anchor="middle" fill="#141414">Vehicle Scaled to WT (%)</text>
</svg>
</body></html>
